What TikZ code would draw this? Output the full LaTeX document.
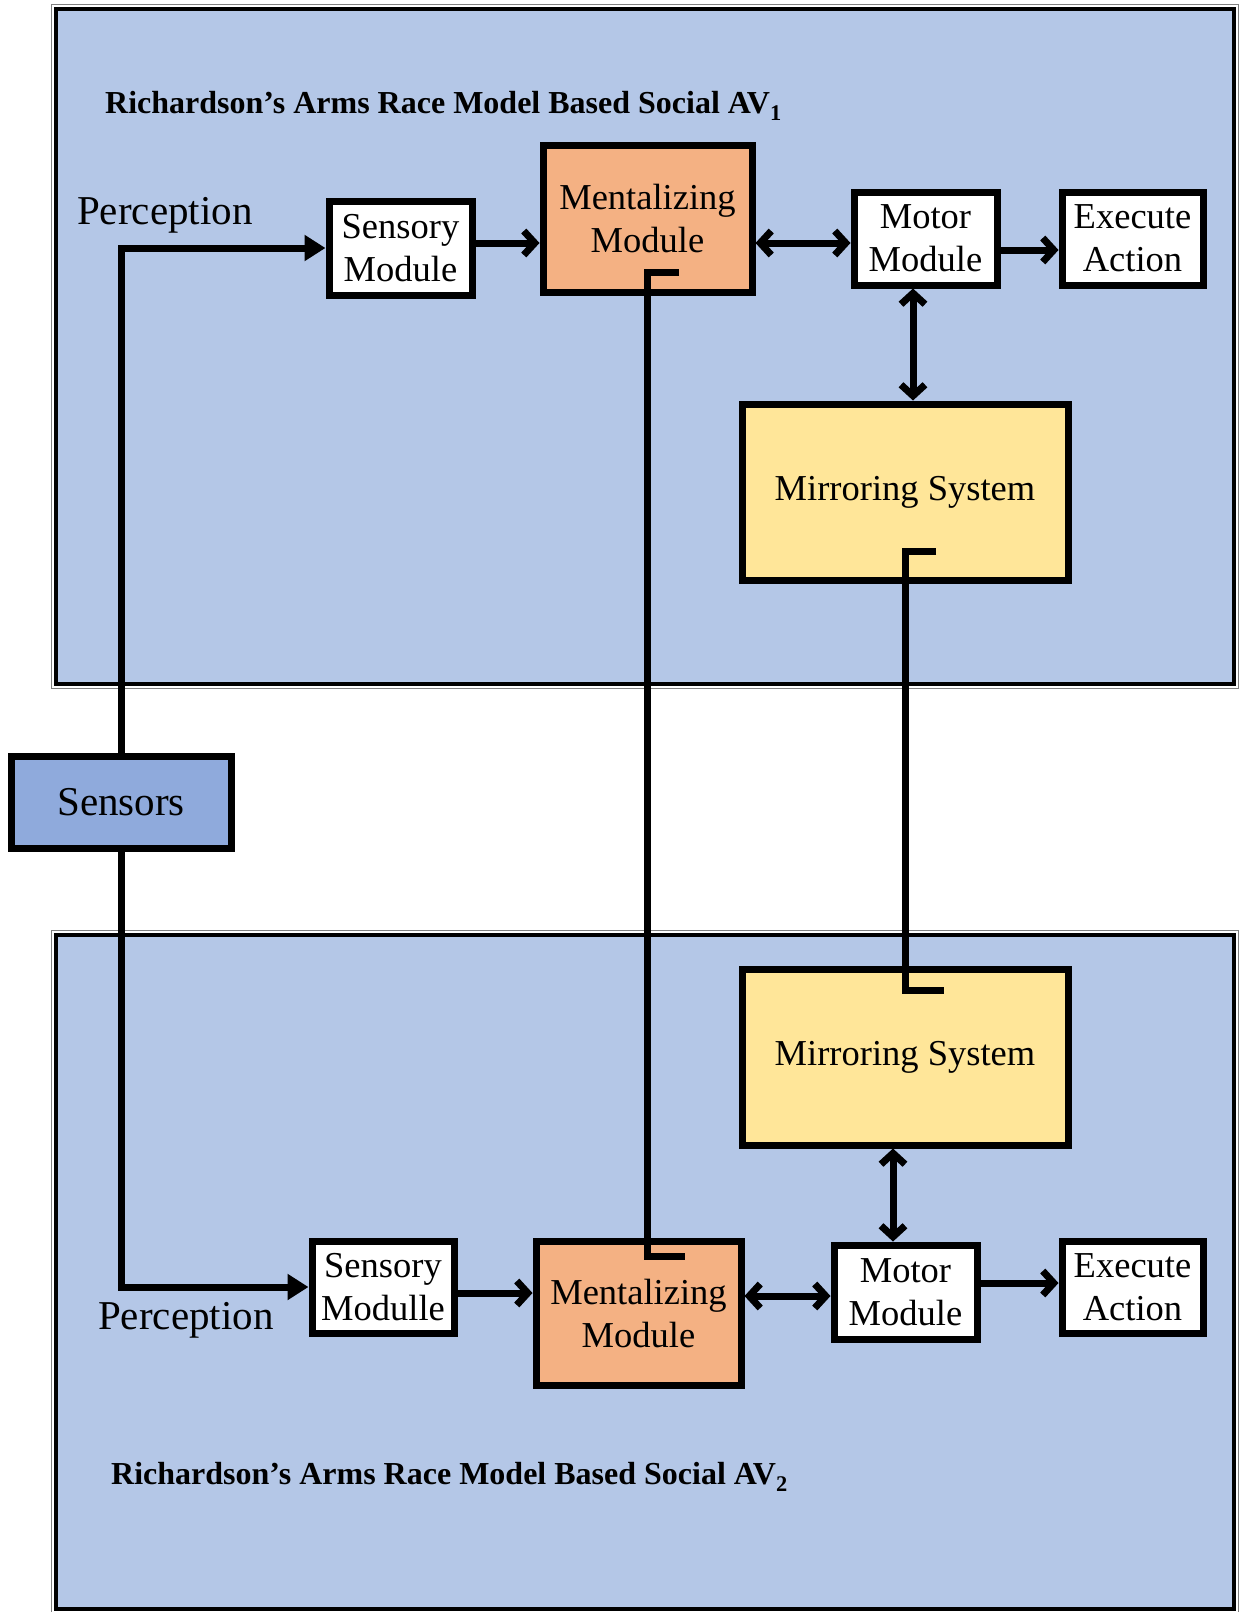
\documentclass[tikz,border=0pt]{standalone}
\usepackage{fontspec}
\setmainfont{Liberation Serif}
\usetikzlibrary{arrows.meta}
\definecolor{panelblue}{HTML}{B4C7E7}
\definecolor{mentorange}{HTML}{F4B183}
\definecolor{mirryellow}{HTML}{FFE699}
\definecolor{sensblue}{HTML}{8FAADC}

\begin{document}
\begin{tikzpicture}[x=1pt,y=-1pt,
    >={Straight Barb[length=11pt,width=24pt]},
    module/.style={draw,line width=7pt,fill=white,inner sep=0pt,align=center,
        font=\fontsize{36.5}{43}\selectfont},
    conn/.style={line width=7pt},
    title/.style={anchor=west,inner sep=0pt,font=\bfseries\fontsize{32}{38}\selectfont},
    perc/.style={anchor=west,inner sep=0pt,font=\fontsize{41}{48}\selectfont}]
\useasboundingbox (0,0) rectangle (1239,1612);
% the two agents
\path[draw=gray,line width=1.5pt] (51.5,4.5) rectangle (1238.5,688.5);
\path[draw,fill=panelblue,line width=3.5pt] (56,9) rectangle (1234,684);
\path[draw=gray,line width=1.5pt] (51.5,930.5) rectangle (1238.5,1613.5);
\path[draw,fill=panelblue,line width=3.5pt] (56,935) rectangle (1234,1609);
\begin{scope}
\node[title] (t1) at (105,106) {Richardson’s Arms Race Model Based Social AV\textsubscript{1}};
\node[perc] (p1) at (77,215) {Perception};
\node[module,minimum width=143pt,minimum height=94pt] (sm1) at (400.5,248) {Sensory\\Module};
\node[module,fill=mentorange,minimum width=209pt,minimum height=147pt] (mm1) at (647.5,219) {Mentalizing\\Module};
\node[module,minimum width=143pt,minimum height=93pt] (mo1) at (925.5,238.5) {Motor\\Module};
\node[module,minimum width=141pt,minimum height=93pt] (ea1) at (1132.5,238.5) {Execute\\Action};
\node[module,fill=mirryellow,minimum width=326pt,minimum height=176pt] (ms1) at (905,492) {Mirroring System};
\end{scope}
\begin{scope}
\node[module,fill=mirryellow,minimum width=326pt,minimum height=176pt] (ms2) at (905,1057) {Mirroring System};
\node[module,minimum width=142pt,minimum height=92pt] (sm2) at (383,1287) {Sensory\\Modulle};
\node[module,fill=mentorange,minimum width=205pt,minimum height=144pt] (mm2) at (638.5,1313) {Mentalizing\\Module};
\node[module,minimum width=143pt,minimum height=94pt] (mo2) at (905.5,1292) {Motor\\Module};
\node[module,minimum width=141pt,minimum height=92pt] (ea2) at (1132.5,1287) {Execute\\Action};
\node[perc] (p2) at (98,1320) {Perception};
\node[title] (t2) at (111,1477) {Richardson’s Arms Race Model Based Social AV\textsubscript{2}};
\end{scope}
\node[module,fill=sensblue,font=\fontsize{41}{48}\selectfont,minimum width=220pt,minimum height=92pt] (sen) at (121,802) {Sensors};
% first agent
\path[draw,conn,-{Triangle[length=21pt,width=25pt]}] (sen.north) |- (sm1.west);
\path[draw,conn,->] ([yshift=5pt]sm1.east) -- ([yshift=5pt]sm1.east -| mm1.west);
\path[draw,conn,<->] ([yshift=-4.5pt]mo1.west -| mm1.east) -- ([yshift=-4.5pt]mo1.west);
\path[draw,conn,->] ([yshift=-11.5pt]mo1.east) -- ([yshift=-11.5pt]mo1.east -| ea1.west);
\path[draw,conn,<->] ([xshift=-12.5pt]mo1.south) -- ([xshift=-12.5pt]mo1.south |- ms1.north);
% second agent
\path[draw,conn,-{Triangle[length=21pt,width=25pt]}] (sen.south) |- (sm2.west);
\path[draw,conn,->] ([yshift=-6pt]sm2.east) -- ([yshift=-6pt]sm2.east -| mm2.west);
\path[draw,conn,<->] ([yshift=-4pt]mo2.west -| mm2.east) -- ([yshift=-4pt]mo2.west);
\path[draw,conn,->] ([yshift=9pt]mo2.east) -- ([yshift=9pt]mo2.east -| ea2.west);
\path[draw,conn,<->] ([xshift=-12.5pt]mo2.north) -- ([xshift=-12.5pt]mo2.north |- ms2.south);
% links between the agents
\coordinate (hk1) at (679,272.5);
\coordinate (hk2) at (685,1256);
\coordinate (hk3) at (936,551);
\coordinate (hk4) at (944,990);
\path[draw,conn] (hk1) -- (mm1.center |- hk1) -- (mm1.center |- hk2) -- (hk2);
\path[draw,conn] (hk3) -- (ms1.center |- hk3) -- (ms1.center |- hk4) -- (hk4);
\end{tikzpicture}
\end{document}
